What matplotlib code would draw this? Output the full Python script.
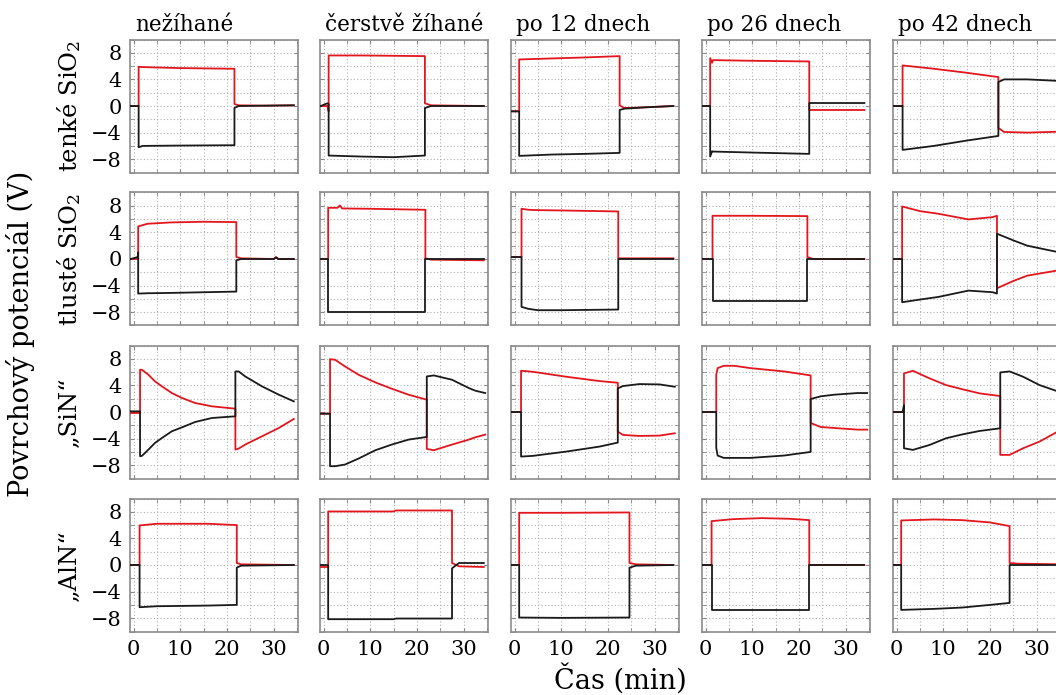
import matplotlib
matplotlib.use("Agg")
import matplotlib.pyplot as plt
from matplotlib.ticker import MultipleLocator

plt.rcParams['font.family'] = ['DejaVu Serif']
plt.rcParams['mathtext.fontset'] = 'dejavuserif'

col_titles = ["nežíhané", "čerstvě žíhané", "po 12 dnech", "po 26 dnech", "po 42 dnech"]
row_labels = ["tenké SiO$_2$", "tlusté SiO$_2$", "„SiN“", "„AlN“"]

# --- tenké SiO2 ---
tenke_t = [
    [-0.6, 1.1, 1.1, 2, 10, 21.6, 21.6, 22.5, 28, 34.3],
    [-0.6, 0.8, 1.1, 1.1, 8, 15, 21.7, 21.7, 23, 34.3],
    [-0.6, 1.0, 1.0, 8, 15, 22.5, 22.5, 23.5, 28, 34],
    [-0.6, 1.0, 1.0, 1.4, 1.6, 10, 22.2, 22.2, 34],
    [-0.6, 1.3, 1.3, 8, 15, 21.8, 21.8, 23, 28, 35.5],
]
tenke_red = [
    [0, 0, 5.9, 5.85, 5.7, 5.6, 0.3, 0.1, 0.05, 0.1],
    [0, 0, -0.8, 7.6, 7.6, 7.55, 7.5, 0.4, 0.1, 0.0],
    [-0.8, -0.8, 7.0, 7.15, 7.3, 7.5, 0.1, -0.3, -0.2, 0],
    [0, 0, 7.2, 6.5, 6.9, 6.8, 6.7, -0.6, -0.6],
    [0, 0, 6.1, 5.6, 5.0, 4.35, -3.3, -3.9, -4.0, -3.85],
]
tenke_black = [
    [0, 0, -6.2, -6.0, -5.95, -5.9, -0.3, 0, 0.05, 0.1],
    [0, 0.4, 0.3, -7.45, -7.6, -7.7, -7.45, -0.3, 0, 0],
    [-0.8, -0.8, -7.5, -7.3, -7.2, -7.05, -0.6, -0.4, -0.2, 0],
    [0, 0, -7.6, -6.8, -6.85, -7.0, -7.2, 0.45, 0.45],
    [0, 0, -6.6, -6.0, -5.2, -4.5, 3.6, 4.0, 4.0, 3.75],
]

# --- tlusté SiO2 ---
tluste_t = [
    [-0.6, 0.9, 1.0, 1.0, 3, 8, 15, 22, 22, 23, 30, 30.5, 31, 34.3],
    [-0.6, 1.0, 1.0, 3, 3.5, 4, 10, 21.8, 21.8, 23, 34.3],
    [-0.6, 1.5, 1.5, 3, 5, 10, 22.2, 22.2, 34],
    [-0.6, 1.5, 1.5, 10, 21.8, 21.8, 23, 34],
    [-0.6, 1.2, 1.2, 5, 9, 15.4, 20.6, 21.5, 21.5, 25, 28, 35.5],
]
tluste_red = [
    [0, 0, 0, 4.9, 5.3, 5.5, 5.6, 5.55, 0.3, 0.1, 0, 0.3, 0, 0],
    [0, 0, 7.7, 7.7, 8.05, 7.6, 7.55, 7.4, 0.1, -0.1, -0.2],
    [0.3, 0.3, 7.55, 7.4, 7.35, 7.3, 7.15, 0.1, 0.1],
    [0, 0, 6.5, 6.5, 6.45, 0.3, 0, 0],
    [0, 0, 7.9, 7.2, 6.8, 5.95, 6.3, 6.5, -4.4, -3.3, -2.5, -1.6],
]
tluste_black = [
    [0, 0.3, 1.0, -5.2, -5.15, -5.1, -5.0, -4.9, -0.2, 0, 0, 0.2, 0, 0],
    [0, 0, -7.95, -7.95, -7.95, -7.95, -7.95, -7.95, 0, 0, 0],
    [0.3, 0.3, -7.2, -7.5, -7.7, -7.7, -7.6, 0, 0],
    [0, 0, -6.35, -6.35, -6.35, 0, 0, 0],
    [0, 0, -6.5, -6.1, -5.7, -4.75, -5.0, -5.2, 3.8, 2.8, 2.0, 0.9],
]

# --- „SiN“ ---
sin_t = [
    [-0.6, 1.4, 1.4, 1.8, 3.2, 4.6, 6.1, 8.2, 10.4, 13.2, 16.8, 21.8, 21.8, 22.5, 23.9, 27.5, 31.1, 34.3],
    [-0.6, 1.4, 1.4, 2.5, 4.6, 7.5, 11.1, 14.6, 18.2, 22.1, 22.1, 23.6, 27.5, 31.1, 32.5, 34.6],
    [-0.6, 1.4, 1.4, 3.9, 11.1, 18.2, 22.1, 22.1, 23.2, 26.7, 31, 34.3],
    [-0.6, 2.3, 2.3, 2.6, 3.9, 6.1, 9.6, 16.8, 22.5, 22.5, 24.6, 27.5, 32.5, 34.6],
    [-0.6, 1.3, 1.6, 1.6, 3.5, 7.1, 10.6, 14.2, 17.8, 22.2, 22.2, 24.2, 27.1, 30.6, 34.1, 35.5],
]
sin_red = [
    [-0.15, -0.15, 6.35, 6.35, 5.6, 4.6, 3.85, 2.85, 2.1, 1.35, 0.85, 0.5, -5.65, -5.5, -4.9, -3.65, -2.4, -1.05],
    [-0.25, -0.25, 7.95, 7.85, 6.85, 5.6, 4.45, 3.5, 2.6, 1.85, -5.55, -5.75, -4.9, -4.15, -3.8, -3.4],
    [0, 0, 6.2, 6.05, 5.3, 4.65, 4.4, -2.95, -3.45, -3.6, -3.55, -3.2],
    [0, 0, 5.6, 6.6, 6.95, 6.95, 6.6, 6.1, 5.5, -1.65, -2.25, -2.4, -2.65, -2.65],
    [0, 0, 0, 5.8, 6.2, 5.05, 4.05, 3.4, 2.8, 2.4, -6.45, -6.45, -5.45, -4.45, -3.1, -2.7],
]
sin_black = [
    [0.1, 0.1, -6.65, -6.6, -5.65, -4.65, -3.9, -2.9, -2.3, -1.5, -0.9, -0.65, 6.1, 6.1, 5.35, 3.85, 2.6, 1.6],
    [-0.25, -0.25, -8.15, -8.15, -7.9, -7.0, -5.75, -4.9, -4.15, -3.75, 5.35, 5.5, 4.85, 3.6, 3.2, 2.85],
    [0, 0, -6.7, -6.6, -5.95, -5.2, -4.6, 3.55, 3.9, 4.2, 4.15, 3.8],
    [0, 0, -5.4, -6.55, -6.9, -6.9, -6.9, -6.55, -6.0, 1.95, 2.35, 2.6, 2.85, 2.85],
    [0, 0, 1.05, -5.45, -5.7, -4.95, -3.95, -3.35, -2.85, -2.45, 5.95, 6.1, 5.3, 4.05, 3.2, 2.8],
]

# --- „AlN“ ---
aln_t = [
    [-0.6, 1.3, 1.3, 5, 16, 22.1, 22.1, 23, 34.3],
    [-0.6, 1.0, 1.0, 15, 15.5, 27.5, 27.5, 29, 34.3],
    [-0.6, 1.0, 1.0, 10, 24.6, 24.6, 26, 34],
    [-0.6, 1.3, 1.3, 6, 12, 18, 22.2, 22.2, 34],
    [-0.6, 1.0, 1.0, 8, 14, 20, 24.2, 24.2, 26, 35.5],
]
aln_red = [
    [0, 0, 5.95, 6.2, 6.2, 6.0, 0.3, 0.1, 0],
    [-0.3, -0.3, 8.05, 8.05, 8.2, 8.2, 0.3, -0.2, -0.3],
    [0, 0, 7.85, 7.85, 7.9, 0.3, 0.1, 0],
    [0, 0, 6.6, 6.9, 7.05, 6.95, 6.75, 0, 0],
    [0, 0, 6.7, 6.85, 6.75, 6.4, 5.85, 0.3, 0.2, 0.1],
]
aln_black = [
    [0, 0, -6.35, -6.2, -6.1, -6.0, -0.4, -0.1, 0],
    [0, 0, -8.15, -8.15, -8.05, -8.05, -0.5, 0.3, 0.3],
    [0, 0, -7.9, -7.95, -7.9, -0.4, -0.1, 0],
    [0, 0, -6.75, -6.75, -6.75, -6.75, -6.75, 0, 0],
    [0, 0, -6.75, -6.6, -6.4, -6.0, -5.7, 0, 0, 0],
]

rows = [
    (tenke_t, tenke_red, tenke_black),
    (tluste_t, tluste_red, tluste_black),
    (sin_t, sin_red, sin_black),
    (aln_t, aln_red, aln_black),
]

W, H = 1056, 695
fig = plt.figure(figsize=(W / 100, H / 100), dpi=100)

col_left = [130, 320, 511, 702, 893]
row_top = [39.5, 192.5, 345.5, 498.5]
ax_w, ax_h = 168, 133

for i, (ts, reds, blacks) in enumerate(rows):
    for j in range(5):
        ax = fig.add_axes([col_left[j] / W, 1 - (row_top[i] + ax_h) / H, ax_w / W, ax_h / H])
        ax.plot(ts[j], reds[j], color='#e3161d', lw=1.3, zorder=3)
        ax.plot(ts[j], blacks[j], color='#1a1a1a', lw=1.3, zorder=4)
        ax.set_xlim(-0.75, 35.2)
        ax.set_ylim(-10, 10)
        ax.xaxis.set_major_locator(MultipleLocator(10))
        ax.xaxis.set_minor_locator(MultipleLocator(5))
        ax.yaxis.set_minor_locator(MultipleLocator(2))
        ax.set_yticks([-8, -4, 0, 4, 8])
        ax.grid(True, which='both', ls=(0, (1, 2)), color='#b0b0b0', lw=0.8)
        ax.tick_params(which='both', direction='in', length=3, color='#888888',
                       top=True, right=True, labelsize=15, pad=6,
                       labelleft=(j == 0), labelbottom=(i == 3))
        for s in ax.spines.values():
            s.set_color('#8c8c8c')
            s.set_linewidth(1.2)
        if i == 0:
            ax.text(0.03, 1.065, col_titles[j], transform=ax.transAxes,
                    ha='left', va='baseline', fontsize=15.5)
    fig.text(69 / W, 1 - (row_top[i] + ax_h / 2) / H, row_labels[i],
             rotation=90, ha='center', va='center', fontsize=17.5)

fig.text(21 / W, 1 - 334 / H, "Povrchový potenciál (V)", rotation=90,
         ha='center', va='center', fontsize=19.5)
fig.text(620 / W, 1 - 679 / H, "Čas (min)", ha='center', va='center', fontsize=19.5)

fig.savefig("out.png", dpi=100, facecolor='white')
